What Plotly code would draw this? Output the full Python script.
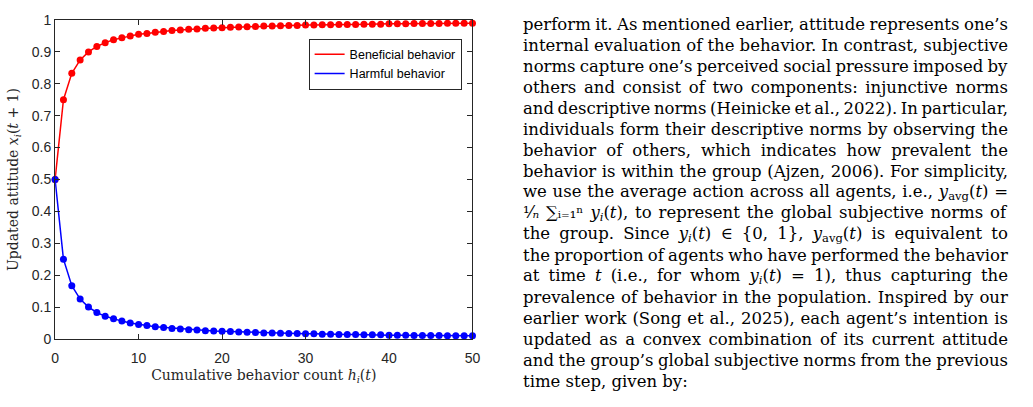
import plotly.graph_objects as go

# ---- data ----
h_values = list(range(0, 51))
beneficial = [0.5, 0.75, 0.833, 0.875, 0.9, 0.917, 0.929, 0.938, 0.944, 0.95,
              0.955, 0.958, 0.962, 0.964, 0.967, 0.969, 0.971, 0.972, 0.974, 0.975,
              0.976, 0.977, 0.978, 0.979, 0.98, 0.981, 0.981, 0.982, 0.983, 0.983,
              0.984, 0.984, 0.985, 0.985, 0.986, 0.986, 0.986, 0.987, 0.987, 0.987,
              0.988, 0.988, 0.988, 0.989, 0.989, 0.989, 0.989, 0.99, 0.99, 0.99, 0.99]
harmful = [0.5, 0.25, 0.167, 0.125, 0.1, 0.083, 0.071, 0.063, 0.056, 0.05,
           0.045, 0.042, 0.038, 0.036, 0.033, 0.031, 0.029, 0.028, 0.026, 0.025,
           0.024, 0.023, 0.022, 0.021, 0.02, 0.019, 0.019, 0.018, 0.017, 0.017,
           0.016, 0.016, 0.015, 0.015, 0.014, 0.014, 0.014, 0.013, 0.013, 0.013,
           0.012, 0.012, 0.012, 0.011, 0.011, 0.011, 0.011, 0.01, 0.01, 0.01, 0.01]
series_names = ["Beneficial behavior", "Harmful behavior"]
x_ticks = [0, 10, 20, 30, 40, 50]
y_ticks = [0, 0.1, 0.2, 0.3, 0.4, 0.5, 0.6, 0.7, 0.8, 0.9, 1]
y_tick_labels = ["0", "0.1", "0.2", "0.3", "0.4", "0.5", "0.6", "0.7", "0.8", "0.9", "1"]


def sub(s):
    return '<span style="font-size:70%;baseline-shift:-0.3em">' + s + '</span>'


YI = "<i>y</i>" + sub("<i>i</i>")
YAVG = "<i>y</i>" + sub("avg")

paragraph_lines = [
    "perform it. As mentioned earlier, attitude represents one’s",
    "internal evaluation of the behavior. In contrast, subjective",
    "norms capture one’s perceived social pressure imposed by",
    "others and consist of two components: injunctive norms",
    "and descriptive norms (Heinicke et al., 2022). In particular,",
    "individuals form their descriptive norms by observing the",
    "behavior of others, which indicates how prevalent the",
    "behavior is within the group (Ajzen, 2006). For simplicity,",
    "we use the average action across all agents, i.e., " + YAVG + "(<i>t</i>) =",
    "¹⁄<i>ₙ</i> ∑ᵢ₌₁ⁿ " + YI + "(<i>t</i>), to represent the global subjective norms of",
    "the group. Since " + YI + "(<i>t</i>) ∈ {0, 1}, " + YAVG + "(<i>t</i>) is equivalent to",
    "the proportion of agents who have performed the behavior",
    "at time <i>t</i> (i.e., for whom " + YI + "(<i>t</i>) = 1), thus capturing the",
    "prevalence of behavior in the population. Inspired by our",
    "earlier work (Song et al., 2025), each agent’s intention is",
    "updated as a convex combination of its current attitude",
    "and the group’s global subjective norms from the previous",
    "time step, given by:",
]

W, H = 1033, 407
AX = "#262626"
red, blue = "#ff0000", "#0000ff"
SERIF = "DejaVu Serif, serif"
SANS = "Liberation Sans, Arial, sans-serif"

fig = go.Figure()
fig.add_trace(go.Scatter(x=h_values, y=beneficial, mode="lines+markers",
                         line=dict(color=red, width=1.5),
                         marker=dict(color=red, size=7),
                         cliponaxis=False, showlegend=False))
fig.add_trace(go.Scatter(x=h_values, y=harmful, mode="lines+markers",
                         line=dict(color=blue, width=1.5),
                         marker=dict(color=blue, size=7),
                         cliponaxis=False, showlegend=False))
# legend entries (line only, as in the original)
for name, col in zip(series_names, [red, blue]):
    fig.add_trace(go.Scatter(x=[None], y=[None], mode="lines", name=name,
                             line=dict(color=col, width=1.5)))

x0, x1 = 51.7, 474.0
yt, yb = 12.5, 344.5
fig.update_layout(
    width=W, height=H,
    margin=dict(l=0, r=0, t=0, b=0),
    paper_bgcolor="white", plot_bgcolor="white",
    xaxis=dict(domain=[x0 / W, x1 / W], range=[0, 50], tickvals=x_ticks,
               ticks="inside", ticklen=5, tickcolor=AX, mirror="allticks",
               showline=True, linecolor=AX, linewidth=1, showgrid=False, zeroline=False,
               ticklabelstandoff=6,
               tickfont=dict(family=SANS, size=14, color=AX),
               title=dict(text="Cumulative behavior count <i>h</i>" + sub("<i>i</i>") + "(<i>t</i>)",
                          font=dict(family=SERIF, size=14, color=AX),
                          standoff=5)),
    yaxis=dict(domain=[(H - yb) / H, (H - yt) / H], range=[0, 1], tickvals=y_ticks,
               ticktext=y_tick_labels,
               ticks="inside", ticklen=5, tickcolor=AX, mirror="allticks",
               showline=True, linecolor=AX, linewidth=1, showgrid=False, zeroline=False,
               tickfont=dict(family=SANS, size=14, color=AX),
               title=dict(text="Updated attitude <i>x</i>" + sub("<i>i</i>") + "(<i>t</i> + 1)",
                          font=dict(family=SERIF, size=14, color=AX),
                          standoff=9)),
    legend=dict(x=463 / W, y=1 - 32 / H, xanchor="right", yanchor="top",
                bgcolor="white", bordercolor=AX, borderwidth=1,
                font=dict(family=SANS, size=12.5, color="black"),
                itemwidth=30, tracegroupgap=0),
)

text_left = 523
text_right = 1008
line_top = 17
line_gap = 21.9
for i, line in enumerate(paragraph_lines):
    fig.add_annotation(text=line, xref="paper", yref="paper",
                       x=text_left / W, y=1 - (line_top + i * line_gap) / H,
                       xanchor="left", yanchor="middle", showarrow=False,
                       align="left",
                       font=dict(family=SERIF, size=16.5, color="black"))

justify_js = """
var gd = document.getElementById('{plot_id}');
var target = %d;
var n = %d;
var texts = gd.querySelectorAll('g.annotation text.annotation-text');
for (var k = 0; k < texts.length && k < n; k++) {
  var t = texts[k];
  var w = t.getBBox().width;
  var s = (t.textContent.match(/ /g) || []).length;
  if (s > 0) { t.style.wordSpacing = ((target - w) / s) + 'px'; }
}
""" % (text_right - text_left, len(paragraph_lines) - 1)

fig.write_html("out.html", post_script=justify_js)
